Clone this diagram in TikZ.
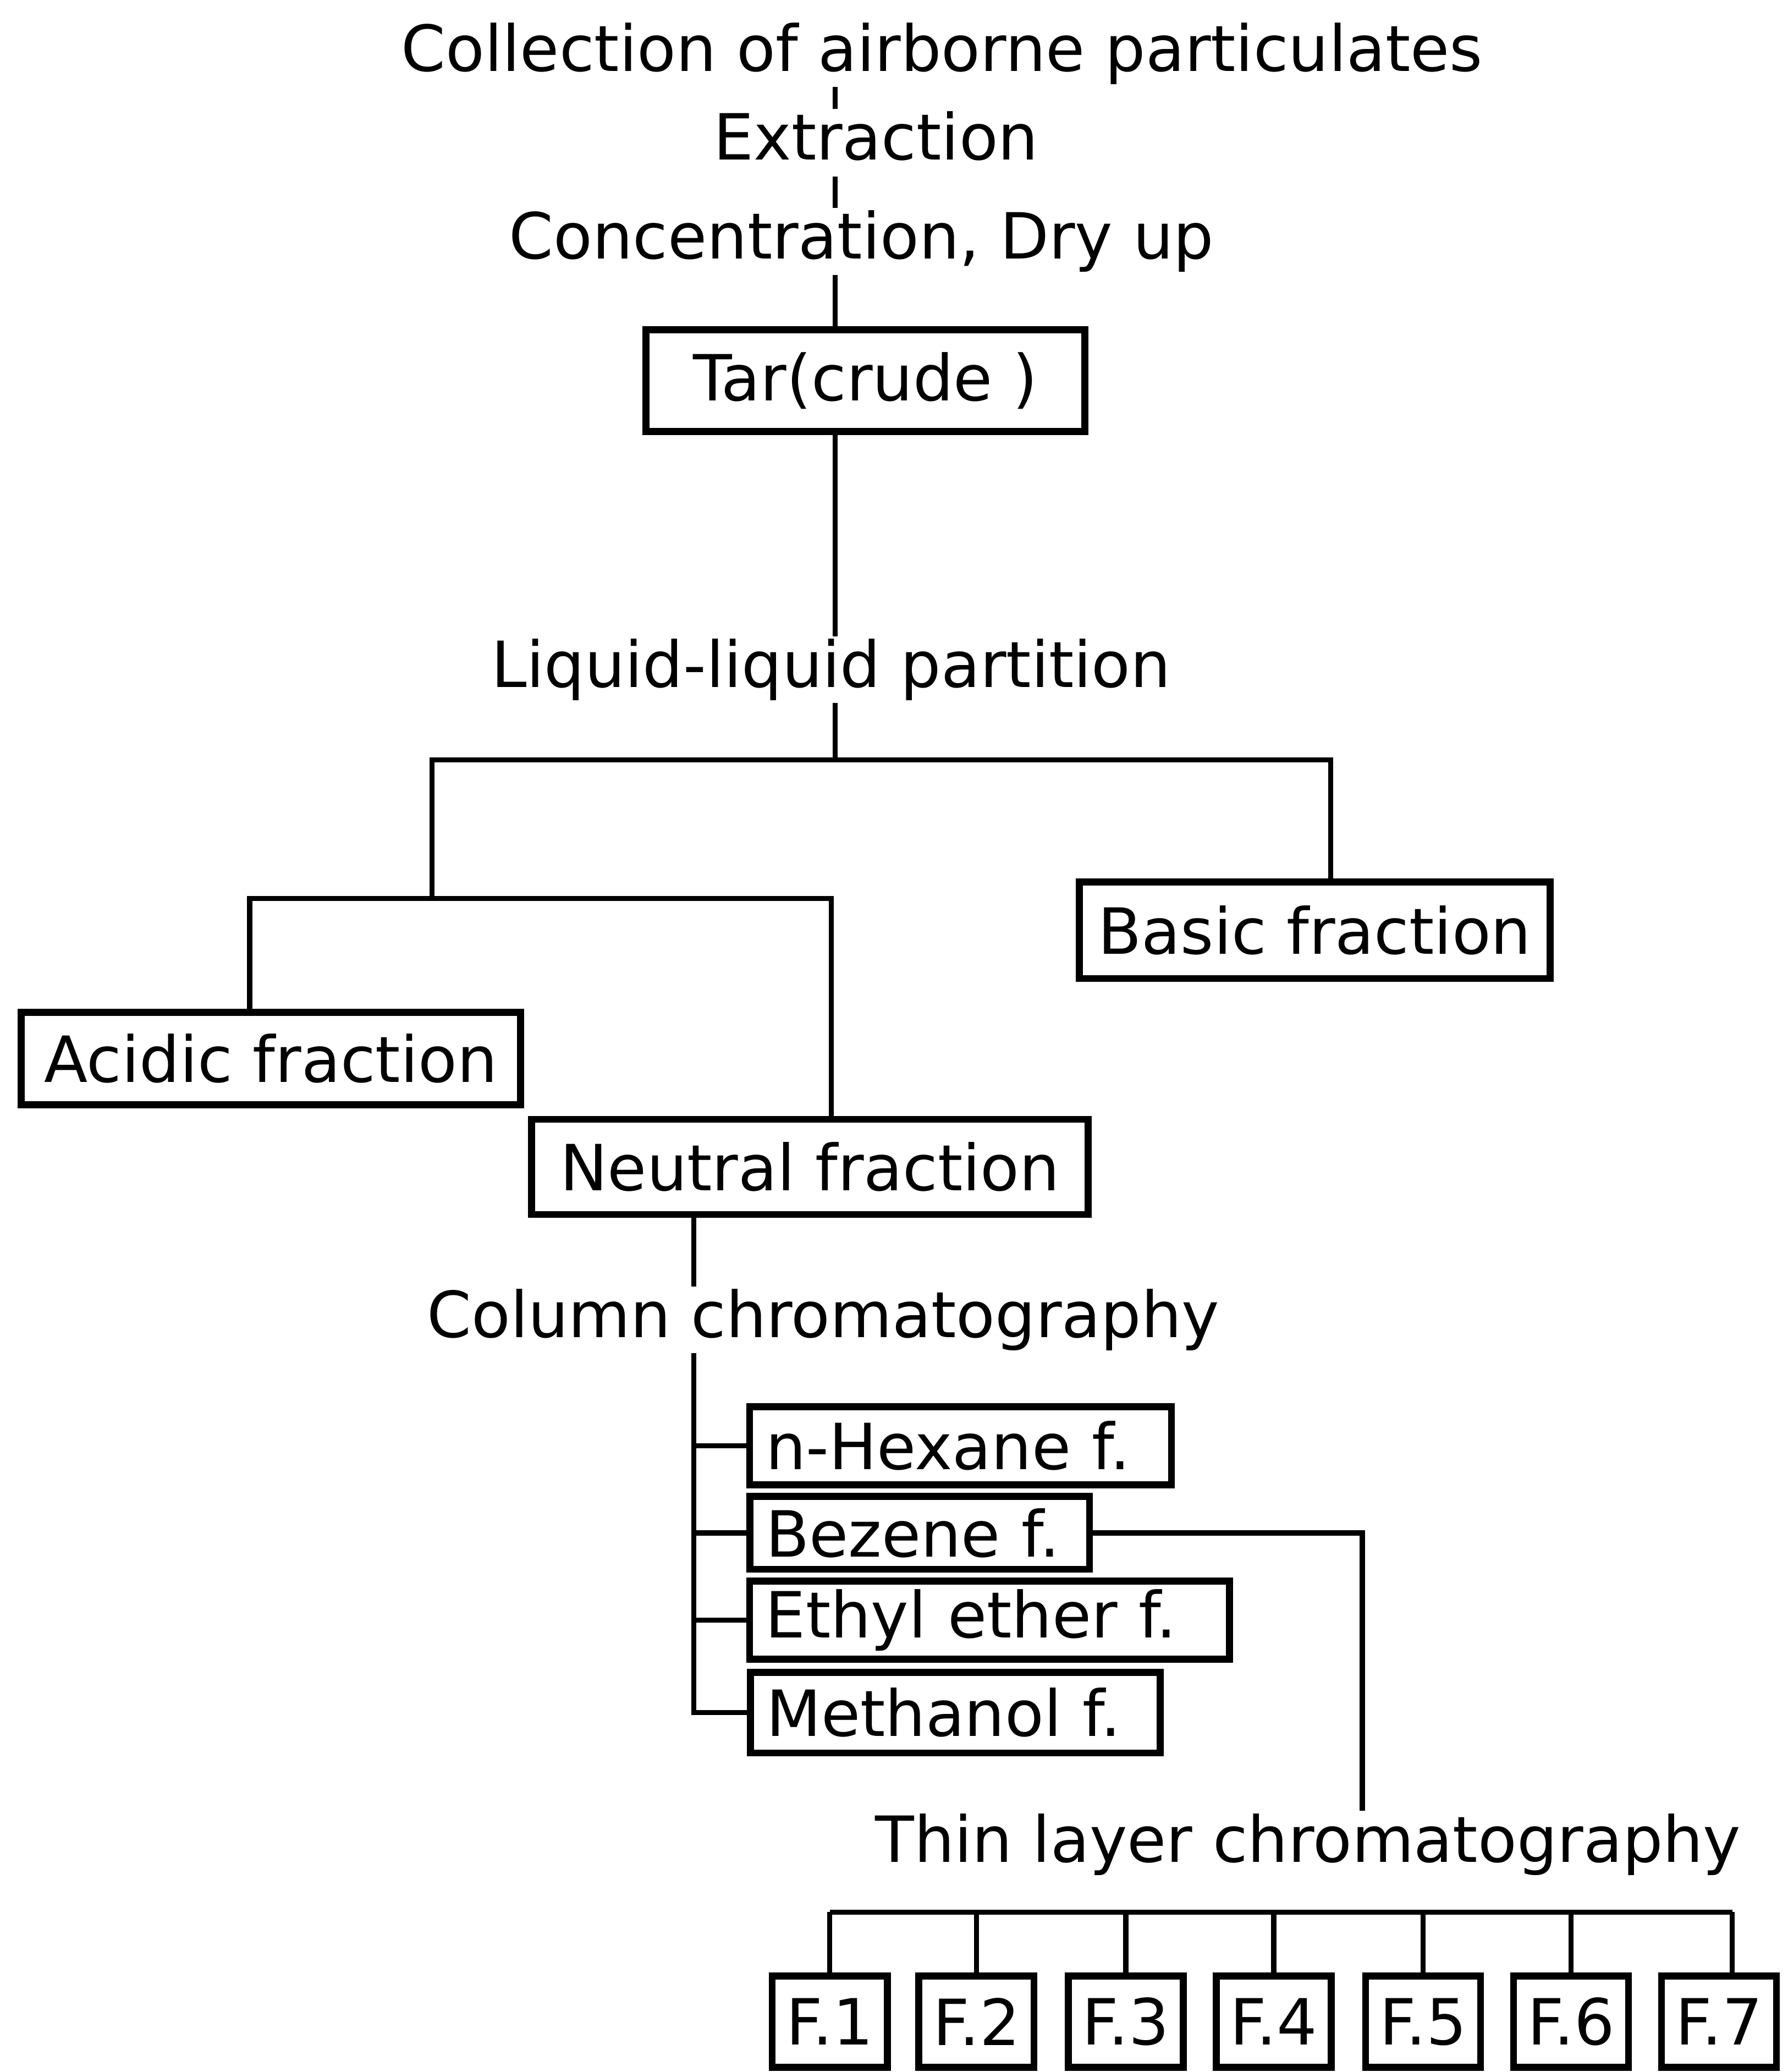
\documentclass[tikz,border=0pt]{standalone}
\usepackage{fontspec}
\setmainfont{DejaVu Sans}
\usetikzlibrary{positioning}

\begin{document}
\begin{tikzpicture}[
  x=0.01cm, y=-0.01cm,
  font=\fontsize{13.7}{16}\selectfont,
  line width=1.1pt,
  box/.style={draw, line width=1.5pt, inner sep=0pt},
  fbox/.style={box, align=left, inner xsep=1.2mm},
  lbl/.style={inner sep=0pt, anchor=base}]

  \useasboundingbox (0,0) rectangle (1353,1568);

  \node[lbl] (coll) at (713,54) {Collection of airborne particulates};
  \node[lbl] (extr) at (663,121) {Extraction};
  \node[lbl] (conc) at (652,196) {Concentration, Dry up};
  \node[box, minimum width=3.32cm, minimum height=0.77cm] (tar) at (655,288) {Tar(crude )};
  \node[lbl] (liq) at (629,520) {Liquid-liquid partition};
  \node[box, minimum width=3.56cm, minimum height=0.73cm] (basic) at (995,704) {Basic fraction};
  \node[box, minimum width=3.78cm, minimum height=0.70cm] (acid) at (205,801) {Acidic fraction};
  \node[box, minimum width=4.21cm, minimum height=0.72cm] (neut) at (613,883) {Neutral fraction};
  \node[lbl] (col) at (623,1012) {Column chromatography};
  \node[fbox, text width=2.95cm, minimum height=0.59cm] (hex) at (727,1094) {n-Hexane f.};
  \node[fbox, text width=2.33cm, minimum height=0.55cm] (bez) at (696,1160) {Bezene f.};
  \node[fbox, text width=3.39cm, minimum height=0.59cm] (eth) at (749,1226) {Ethyl ether f.};
  \node[fbox, text width=2.86cm, minimum height=0.61cm] (meth) at (723,1296) {Methanol f.};
  \node[lbl] (tlc) at (990,1409) {Thin layer chromatography};
  \foreach \f/\x in {1/628,2/739,3/852,4/964,5/1077,6/1189,7/1301}
    \node[box, minimum width=0.87cm, minimum height=0.69cm] (f\f) at (\x,1530) {F.\f};

  \coordinate (j1) at (632,575);
  \coordinate (j2) at (327,680);
  \coordinate (stem) at (525,1298);
  \coordinate (tlcbar) at (0,1447);

  \draw (coll.south -| j1) -- (extr.north -| j1);
  \draw[shorten <=1mm] (extr.south -| j1) -- (conc.north -| j1);
  \draw (conc.south -| j1) -- (tar.north -| j1);
  \draw (tar.south -| j1) -- (liq.north -| j1);
  \draw (liq.south -| j1) -- (j1);
  \draw (j2) |- (j1) -| ([xshift=1.2mm]basic.north);
  \draw ([xshift=-1.6mm]acid.north) |- ([xshift=1.6mm]neut.north |- j2) -- ([xshift=1.6mm]neut.north);
  \draw (neut.south -| stem) -- (col.north -| stem);
  \draw (col.south -| stem) |- (meth.west);
  \foreach \n in {hex,bez,eth}
    \draw (stem |- \n.west) -- (\n.west);
  \draw (bez.east) -| ([xshift=4.1mm]tlc.north);
  \draw (f1.north |- tlcbar) -- ([xshift=1mm]f7.north |- tlcbar);
  \foreach \f in {1,...,6}
    \draw (f\f.north) -- (f\f.north |- tlcbar);
  \draw ([xshift=1mm]f7.north) -- ([xshift=1mm]f7.north |- tlcbar);
\end{tikzpicture}
\end{document}
